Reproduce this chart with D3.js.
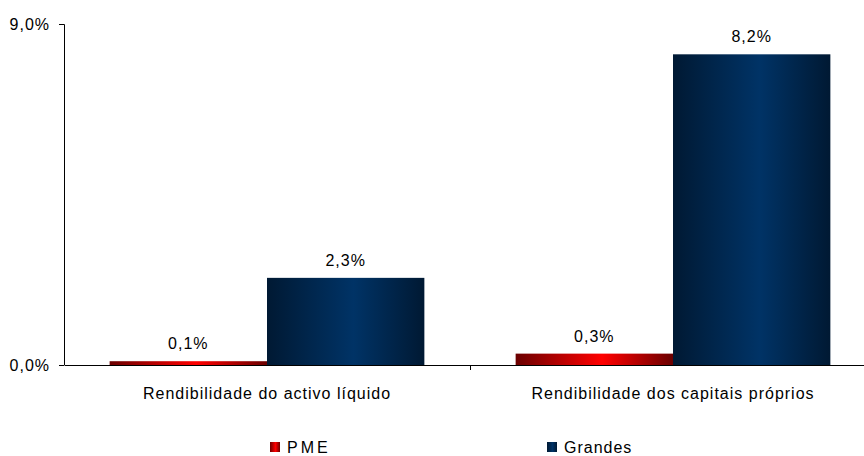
<!DOCTYPE html>
<html>
<head>
<meta charset="utf-8">
<script src="https://cdn.jsdelivr.net/npm/d3@7"></script>
<style>
  body { margin: 0; background: #fff; overflow: hidden; }
  svg { display: block; font-family: "Liberation Sans", Arial, sans-serif; }
</style>
</head>
<body>
<div id="chart"></div>
<script>
// data
const categories = ["Rendibilidade do activo líquido", "Rendibilidade dos capitais próprios"];
const seriesNames = ["PME", "Grandes"];
const pmeValues = [0.1, 0.3];
const grandesValues = [2.3, 8.2];
const yTicks = [0, 9];

const width = 864;
const height = 456;
// plot area runs a bit past the right edge of the window, like the original
const margin = { top: 24, left: 64 };
const innerW = 812;
const innerH = 341;

const fmt = v => d3.format(".1f")(v).replace(".", ",") + "%";

const svg = d3.select("#chart")
  .append("svg")
  .attr("width", width)
  .attr("height", height);

// gradients for the bars
const defs = svg.append("defs");
const gradRed = defs.append("linearGradient").attr("id", "gRed")
  .attr("x1", "0%").attr("x2", "100%").attr("y1", "0%").attr("y2", "0%");
gradRed.append("stop").attr("offset", "0%").attr("stop-color", "#6a0000");
gradRed.append("stop").attr("offset", "55%").attr("stop-color", "#ff0000");
gradRed.append("stop").attr("offset", "100%").attr("stop-color", "#6a0000");

const gradBlue = defs.append("linearGradient").attr("id", "gBlue")
  .attr("x1", "0%").attr("x2", "100%").attr("y1", "0%").attr("y2", "0%");
gradBlue.append("stop").attr("offset", "0%").attr("stop-color", "#001933");
gradBlue.append("stop").attr("offset", "55%").attr("stop-color", "#003366");
gradBlue.append("stop").attr("offset", "100%").attr("stop-color", "#001933");

const fills = ["url(#gRed)", "url(#gBlue)"];

const g = svg.append("g")
  .attr("transform", `translate(${margin.left},${margin.top})`);

const x0 = d3.scaleBand()
  .domain(categories)
  .range([0, innerW])
  .paddingInner(0)
  .paddingOuter(0);

const x1 = d3.scaleBand()
  .domain(seriesNames)
  .range([0, x0.bandwidth()])
  .paddingInner(0)
  .paddingOuter(0.29);

const y = d3.scaleLinear()
  .domain([0, 9])
  .range([innerH, 0]);

const rows = categories.map((c, i) => ({
  cat: c,
  vals: [
    { s: seriesNames[0], v: pmeValues[i], f: fills[0] },
    { s: seriesNames[1], v: grandesValues[i], f: fills[1] }
  ]
}));

// bars
const groups = g.selectAll(".grp")
  .data(rows)
  .join("g")
  .attr("class", "grp")
  .attr("transform", d => `translate(${x0(d.cat)},0)`);

groups.selectAll("rect")
  .data(d => d.vals)
  .join("rect")
  .attr("x", d => x1(d.s))
  .attr("y", d => y(d.v))
  .attr("width", x1.bandwidth())
  .attr("height", d => y(0) - y(d.v))
  .attr("fill", d => d.f);

groups.selectAll("text.val")
  .data(d => d.vals)
  .join("text")
  .attr("class", "val")
  .attr("x", d => x1(d.s) + x1.bandwidth() / 2)
  .attr("y", d => y(d.v) - 12)
  .attr("text-anchor", "middle")
  .attr("font-size", 16)
  .attr("letter-spacing", 1)
  .attr("fill", "#000")
  .text(d => fmt(d.v));

// y axis
const yAxis = g.append("g")
  .call(d3.axisLeft(y).tickValues(yTicks).tickSize(5).tickPadding(9).tickFormat(fmt));
yAxis.select(".domain").attr("stroke", "#000").attr("d", `M-5,0.5H0.5V${innerH}`);
yAxis.selectAll(".tick line").attr("stroke", "#000");
yAxis.selectAll(".tick text").attr("font-size", 16).attr("letter-spacing", 1).attr("fill", "#000")
  .attr("font-family", "Liberation Sans, Arial, sans-serif");

// x axis
const xAxis = g.append("g")
  .attr("transform", `translate(0,${innerH})`)
  .call(d3.axisBottom(x0).tickSize(0).tickPadding(23));
xAxis.select(".domain").attr("stroke", "#000");
xAxis.selectAll(".tick text").attr("font-size", 16).attr("letter-spacing", 1).attr("fill", "#000")
  .attr("font-family", "Liberation Sans, Arial, sans-serif");
// separator tick between categories
xAxis.append("line")
  .attr("x1", x0(categories[1]) + 0.5).attr("x2", x0(categories[1]) + 0.5)
  .attr("y1", 0).attr("y2", 5)
  .attr("stroke", "#000");

// legend
const legendX = [270, 547];
const legend = svg.append("g")
  .selectAll("g")
  .data(seriesNames)
  .join("g")
  .attr("transform", (d, i) => `translate(${legendX[i]},442)`);
legend.append("rect")
  .attr("width", 10).attr("height", 10)
  .attr("fill", (d, i) => fills[i]);
legend.append("text")
  .attr("x", 17).attr("y", 11)
  .attr("font-size", 16)
  .attr("letter-spacing", (d, i) => i === 0 ? 3 : 1)
  .attr("fill", "#000")
  .text(d => d);
</script>
</body>
</html>
